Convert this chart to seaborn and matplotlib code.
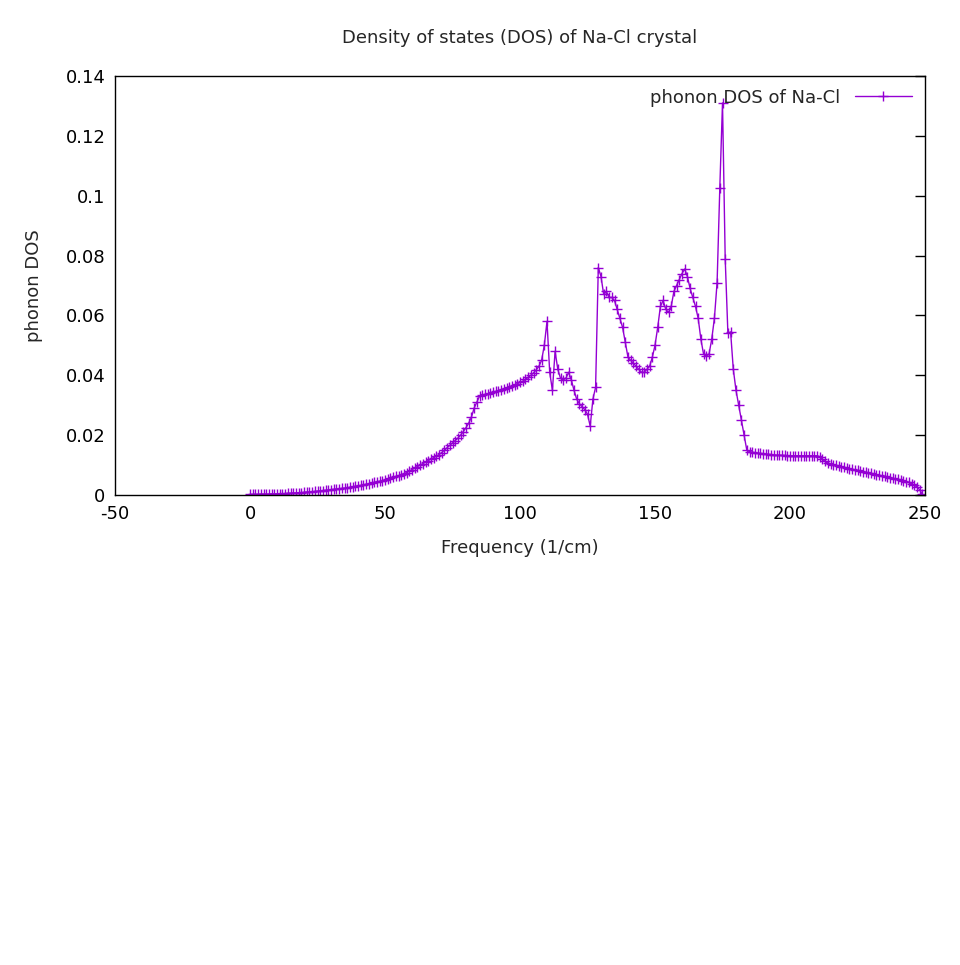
import numpy as np
import seaborn as sns
import matplotlib
matplotlib.use('Agg')
import matplotlib.pyplot as plt

sns.set_style('white')
plt.rcParams['font.family'] = ['DejaVu Sans']
plt.rcParams['axes.unicode_minus'] = False

# phonon DOS sampled every 1 cm^-1
dos_0_49 = [0.0002, 0.0002, 0.0002, 0.0002, 0.0003, 0.0003, 0.0003, 0.0003, 0.0004, 0.0004,
            0.0004, 0.0005, 0.0005, 0.0005, 0.0006, 0.0006, 0.0007, 0.0007, 0.0008, 0.0008,
            0.0009, 0.0010, 0.0010, 0.0011, 0.0012, 0.0013, 0.0014, 0.0015, 0.0016, 0.0017,
            0.0018, 0.0019, 0.0020, 0.0021, 0.0022, 0.0023, 0.0024, 0.0026, 0.0027, 0.0029,
            0.0030, 0.0032, 0.0034, 0.0036, 0.0038, 0.0040, 0.0042, 0.0044, 0.0046, 0.0048]
dos_50_99 = [0.0050, 0.0053, 0.0056, 0.0059, 0.0062, 0.0065, 0.0068, 0.0071, 0.0075, 0.0080,
             0.0085, 0.0090, 0.0095, 0.0100, 0.0105, 0.0110, 0.0115, 0.0120, 0.0125, 0.0130,
             0.0135, 0.0142, 0.0150, 0.0158, 0.0166, 0.0174, 0.0182, 0.0190, 0.0200, 0.0212,
             0.0225, 0.0240, 0.0260, 0.0290, 0.0310, 0.0330, 0.0333, 0.0336, 0.0338, 0.0340,
             0.0343, 0.0346, 0.0349, 0.0352, 0.0355, 0.0358, 0.0361, 0.0364, 0.0368, 0.0372]
dos_100_149 = [0.0376, 0.0380, 0.0386, 0.0393, 0.0400, 0.0408, 0.0418, 0.0430, 0.0450, 0.0500,
               0.0580, 0.0410, 0.0350, 0.0480, 0.0420, 0.0390, 0.0385, 0.0390, 0.0410, 0.0385,
               0.0350, 0.0320, 0.0305, 0.0295, 0.0285, 0.0270, 0.0230, 0.0320, 0.0360, 0.0760,
               0.0730, 0.0670, 0.0680, 0.0660, 0.0660, 0.0650, 0.0620, 0.0590, 0.0560, 0.0510,
               0.0460, 0.0450, 0.0440, 0.0430, 0.0420, 0.0410, 0.0410, 0.0420, 0.0430, 0.0460]
dos_150_199 = [0.0500, 0.0560, 0.0630, 0.0650, 0.0620, 0.0610, 0.0630, 0.0680, 0.0700, 0.0720,
               0.0740, 0.0755, 0.0730, 0.0690, 0.0660, 0.0630, 0.0590, 0.0520, 0.0470, 0.0465,
               0.0470, 0.0520, 0.0590, 0.0710, 0.1025, 0.1310, 0.0790, 0.0540, 0.0545, 0.0420,
               0.0350, 0.0300, 0.0250, 0.0200, 0.0150, 0.0145, 0.0143, 0.0141, 0.0140, 0.0139,
               0.0138, 0.0137, 0.0136, 0.0135, 0.0134, 0.0133, 0.0133, 0.0132, 0.0132, 0.0131]
dos_200_249 = [0.0131, 0.0131, 0.0131, 0.0131, 0.0131, 0.0131, 0.0131, 0.0131, 0.0131, 0.0131,
               0.0131, 0.0128, 0.0120, 0.0112, 0.0107, 0.0104, 0.0101, 0.0099, 0.0096, 0.0094,
               0.0092, 0.0090, 0.0088, 0.0086, 0.0084, 0.0082, 0.0080, 0.0078, 0.0076, 0.0074,
               0.0072, 0.0070, 0.0068, 0.0066, 0.0064, 0.0062, 0.0060, 0.0058, 0.0056, 0.0054,
               0.0052, 0.0050, 0.0048, 0.0045, 0.0042, 0.0038, 0.0033, 0.0027, 0.0018, 0.0002]

dos = dos_0_49 + dos_50_99 + dos_100_149 + dos_150_199 + dos_200_249
freq = list(range(len(dos)))

fig = plt.figure(figsize=(9.6, 9.65), dpi=100)
ax = fig.add_axes([115/960, 1 - 495/965, 810/960, 419/965])
sns.lineplot(x=freq, y=dos, ax=ax, color='#9400d3', linewidth=1, marker='+',
             markersize=7, markeredgewidth=1, markeredgecolor='#9400d3',
             label='phonon DOS of Na-Cl')

fs = 13
ax.set_xlim(-50, 250)
ax.set_ylim(0, 0.14)
ax.set_xticks(range(-50, 251, 50))
ax.set_yticks([0, 0.02, 0.04, 0.06, 0.08, 0.1, 0.12, 0.14])
ax.set_yticklabels(['0', '0.02', '0.04', '0.06', '0.08', '0.1', '0.12', '0.14'])
ax.tick_params(direction='in', length=7, width=1, right=True, labelsize=fs,
               colors='black', pad=7)
for s in ax.spines.values():
    s.set_color('black')
    s.set_linewidth(1)
ax.set_xlabel('Frequency (1/cm)', fontsize=fs, labelpad=12)
ax.set_ylabel('phonon DOS', fontsize=fs, labelpad=16)
ax.set_title('Density of states (DOS) of Na-Cl crystal', fontsize=fs, pad=24)
ax.legend(loc='upper right', frameon=False, fontsize=fs, markerfirst=False,
          handlelength=3.2, borderaxespad=0.3)

fig.savefig('out.png', dpi=100)
